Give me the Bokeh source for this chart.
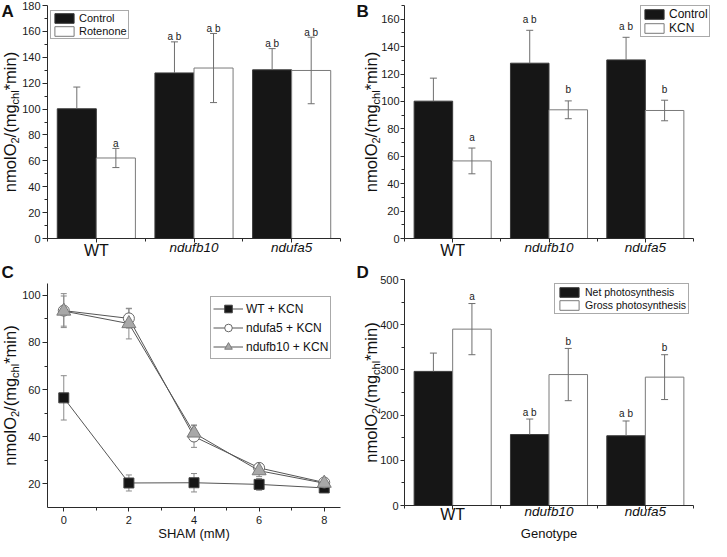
from math import pi
from bokeh.plotting import figure
from bokeh.models import (Range1d, FixedTicker, Label, Legend, LegendItem, Whisker,
                          TeeHead, ColumnDataSource)
from bokeh.layouts import column, row
from bokeh.embed import file_html
from bokeh.resources import INLINE
from bokeh.core.properties import value

FONT = "Liberation Sans"

# ---------------- data ----------------
genotypes = ["WT", "ndufb10", "ndufa5"]

# Panel A: Control vs Rotenone
a_control = [100.2, 127.9, 130.3]
a_control_err = [16.8, 24.0, 16.4]
a_rotenone = [62.2, 131.7, 129.8]
a_rotenone_err = [7.4, 26.7, 25.7]
a_letters_control = ["", "a b", "a b"]
a_letters_rotenone = ["a", "a b", "a b"]

# Panel B: Control vs KCN
b_control = [100.2, 127.9, 130.3]
b_control_err = [16.8, 24.0, 16.5]
b_kcn = [56.6, 93.9, 93.4]
b_kcn_err = [9.4, 6.5, 7.5]
b_letters_control = ["", "a b", "a b"]
b_letters_kcn = ["a", "b", "b"]

# Panel C: SHAM titration
sham_mM = [0, 2, 4, 6, 8]
wt_kcn = [56.5, 20.4, 20.5, 19.8, 18.3]
wt_kcn_err = [9.4, 3.4, 3.9, 2.5, 1.8]
ndufa5_kcn = [93.5, 90.2, 40.1, 26.8, 20.6]
ndufa5_kcn_err = [7.2, 4.1, 4.6, 1.8, 1.4]
ndufb10_kcn = [93.3, 88.0, 41.6, 25.6, 20.3]
ndufb10_kcn_err = [6.4, 6.5, 3.4, 2.5, 1.6]

# Panel D: photosynthesis
d_net = [296.7, 157.0, 154.3]
d_net_err = [40.5, 34.3, 32.7]
d_gross = [390.2, 289.7, 284.0]
d_gross_err = [56.6, 57.8, 49.6]
d_letters_net = ["", "a b", "a b"]
d_letters_gross = ["a", "b", "b"]

# ---------------- styling helpers ----------------
AX = "#2a2a2a"
BLACK = "#161616"
EDGE = "#7a7a7a"
ERR = "#6e6e6e"

W = {'n': 556, 'm': 833, 'o': 556, 'l': 222, 'O': 778, '2': 556, '/': 278, '(': 333,
     'g': 556, 'c': 500, 'h': 556, '*': 389, 'i': 222, ')': 333}


def tw(s, size):
    return sum(W[c] for c in s) * size / 1000.0


class Panel:
    """Figure whose frame fills the canvas; axes are pinned at the data origin."""

    def __init__(self, w, h, fl, fr, ft, fb, x0, x1, y0, y1, tick_out, standoff):
        self.sx = (fr - fl) / (x1 - x0)
        self.sy = (fb - ft) / (y1 - y0)
        self.xs = x0 - fl / self.sx
        self.xe = x1 + (w - fr) / self.sx
        self.ys = y0 - (h - fb) / self.sy
        self.ye = y1 + ft / self.sy
        self.h = h
        p = figure(width=w, height=h, x_range=Range1d(self.xs, self.xe),
                   y_range=Range1d(self.ys, self.ye), output_backend="svg",
                   toolbar_location=None, min_border=0, min_border_left=0,
                   min_border_right=0, min_border_top=0, min_border_bottom=0)
        p.outline_line_color = None
        p.grid.visible = False
        p.background_fill_color = "white"
        p.border_fill_color = "white"
        p.xaxis.fixed_location = y0
        p.yaxis.fixed_location = x0
        p.xaxis.bounds = (x0, x1)
        p.yaxis.bounds = (y0, y1)
        for ax in (p.xaxis[0], p.yaxis[0]):
            ax.axis_line_color = AX
            ax.major_tick_line_color = AX
            ax.minor_tick_line_color = AX
            ax.major_tick_in = 0
            ax.minor_tick_in = 0
            ax.minor_tick_out = 3
            ax.major_label_text_font = FONT
            ax.major_label_text_font_size = "11px"
            ax.major_label_text_color = "#1a1a1a"
        p.yaxis.major_tick_out = tick_out
        p.yaxis.major_label_standoff = standoff
        p.xaxis.major_tick_out = 4
        p.xaxis.major_label_standoff = 4
        self.p = p

    def dx(self, cx):
        return self.xs + cx / self.sx

    def dy(self, cy):
        return self.ye - cy / self.sy

    def lab(self, text, cx, cy, size, style="normal", angle=0, align="left", xdata=None):
        # (cx, cy) is the wanted baseline point in canvas pixels; the label is anchored
        # at the middle of its text box, which lies 0.35 em above the baseline.
        if angle == 0:
            cy = cy - 0.35 * size
        else:
            cx = cx - 0.35 * size
        x = xdata if xdata is not None else self.dx(cx)
        self.p.add_layout(Label(x=x, y=self.dy(cy), x_units="data", y_units="data", text=text,
                                text_font=FONT, text_font_size=f"{size}px",
                                text_font_style=style, angle=angle, text_align=align,
                                text_baseline="middle", text_color="#111111"))

    def ylabel(self, base_cx, ft, fb, sub_shift=3.5):
        pieces = [("nmolO", 16.5, 0), ("2", 11, sub_shift), ("/(mg", 16.5, 0),
                  ("chl", 11, sub_shift), ("*min)", 16.5, 0)]
        total = sum(tw(t, s) for t, s, _ in pieces)
        cy = (ft + fb) / 2 + total / 2
        for t, s, sub in pieces:
            self.lab(t, base_cx + sub, cy, s, angle=pi / 2)
            cy -= tw(t, s)


def bar_panel(P, left, left_err, right, right_err, lt_left, lt_right, gap):
    p = P.p
    xs = list(range(len(genotypes)))
    src_l = ColumnDataSource(dict(x=[i - 0.2 for i in xs], top=left,
                                  upper=[v + e for v, e in zip(left, left_err)],
                                  lower=left, txt=lt_left))
    src_r = ColumnDataSource(dict(x=[i + 0.2 for i in xs], top=right,
                                  upper=[v + e for v, e in zip(right, right_err)],
                                  lower=[v - e for v, e in zip(right, right_err)], txt=lt_right))
    r1 = p.vbar(x="x", top="top", bottom=0, width=0.4, source=src_l, fill_color=BLACK,
                line_color="#3a3a3a")
    r2 = p.vbar(x="x", top="top", bottom=0, width=0.4, source=src_r, fill_color="white",
                line_color=EDGE)
    p.add_layout(Whisker(source=src_l, base="x", upper="upper", lower="lower", line_color=ERR,
                         upper_head=TeeHead(size=7, line_color=ERR), lower_head=None,
                         level="annotation"))
    p.add_layout(Whisker(source=src_r, base="x", upper="upper", lower="lower", line_color=ERR,
                         upper_head=TeeHead(size=7, line_color=ERR),
                         lower_head=TeeHead(size=7, line_color=ERR), level="annotation"))
    for src in (src_l, src_r):
        p.text(x="x", y="upper", text="txt", source=src, text_align="center",
               text_baseline="alphabetic", y_offset=-gap, text_font=value(FONT),
               text_font_size="10px", text_color="#1a1a1a")
    p.xaxis.ticker = FixedTicker(ticks=xs, minor_ticks=[i - 0.5 for i in xs] + [xs[-1] + 0.5])
    p.xaxis.major_label_text_color = None
    return r1, r2


def cat_labels(P, wt_cy, mut_cy):
    for i, g in enumerate(genotypes):
        if g == "WT":
            P.lab(g, 0, wt_cy, 16, align="center", xdata=i)
        else:
            P.lab(g, 0, mut_cy, 13.5, align="center", style="italic", xdata=i)


def bar_legend(p, items, loc, size, pad, spacing, label_h, standoff=3):
    leg = Legend(items=[LegendItem(label=l, renderers=[r]) for l, r in items], location=loc,
                 padding=pad, spacing=spacing, margin=0, glyph_width=24, glyph_height=12,
                 label_height=label_h, label_standoff=standoff, label_text_font=FONT,
                 label_text_font_size=f"{size}px", label_text_color="#111111",
                 border_line_color="#555555", border_line_width=1,
                 background_fill_color="white", background_fill_alpha=1.0)
    p.add_layout(leg)


H1, H2 = 262, 279
WL, WR = 356, 355

# ---------------- Panel A ----------------
PA = Panel(WL, H1, 47, 340, 5, 238, -0.5, 2.5, 0, 180, 5, 2)
PA.p.yaxis.ticker = FixedTicker(ticks=list(range(0, 181, 20)), minor_ticks=list(range(10, 180, 20)))
ra1, ra2 = bar_panel(PA, a_control, a_control_err, a_rotenone, a_rotenone_err,
                     a_letters_control, a_letters_rotenone, 5)
cat_labels(PA, 256, 252)
PA.ylabel(15, 5, 238)
bar_legend(PA.p, [("Control", ra1), ("Rotenone", ra2)], (50, H1 - 10 - 29), 11, 1, 1, 12)
PA.lab("A", 1, 17, 17, style="bold")

# ---------------- Panel B ----------------
PB = Panel(WR, H1, 48, 337, 5, 238, -0.5, 2.5, 0, 170, 4, 1)
PB.p.yaxis.ticker = FixedTicker(ticks=list(range(0, 161, 20)), minor_ticks=list(range(10, 171, 20)))
rb1, rb2 = bar_panel(PB, b_control, b_control_err, b_kcn, b_kcn_err,
                     b_letters_control, b_letters_kcn, 11)
cat_labels(PB, 256, 252)
PB.ylabel(20, 5, 238)
bar_legend(PB.p, [("Control", rb1), ("KCN", rb2)], (284, H1 - 7 - 30), 12, 1, 0, 13)
PB.lab("B", 0, 17, 17, style="bold")

# ---------------- Panel C ----------------
PC = Panel(WL, H2, 47, 340, 21, 245, -0.5, 8.5, 10, 105, 5, 2)
pc = PC.p
pc.xaxis.ticker = FixedTicker(ticks=[0, 2, 4, 6, 8], minor_ticks=[1, 3, 5, 7])
pc.yaxis.ticker = FixedTicker(ticks=[20, 40, 60, 80, 100], minor_ticks=[30, 50, 70, 90])
PC.lab("SHAM (mM)", 0, 276, 13, align="center", xdata=4)
PC.lab("C", 1, 16, 17, style="bold")

series = [
    ("WT + KCN", wt_kcn, wt_kcn_err, "square", 10, BLACK, "#444444"),
    ("ndufa5 + KCN", ndufa5_kcn, ndufa5_kcn_err, "circle", 11, "white", "#666666"),
    ("ndufb10 + KCN", ndufb10_kcn, ndufb10_kcn_err, "triangle", 14, "#a8a8a8", "#7a7a7a"),
]
c_items = []
for name, vals, errs, marker, size, fill, edge in series:
    src = ColumnDataSource(dict(x=sham_mM, y=vals,
                                upper=[v + e for v, e in zip(vals, errs)],
                                lower=[v - e for v, e in zip(vals, errs)]))
    pc.add_layout(Whisker(source=src, base="x", upper="upper", lower="lower", line_color="#8a8a8a",
                          upper_head=TeeHead(size=6, line_color="#8a8a8a"),
                          lower_head=TeeHead(size=6, line_color="#8a8a8a"), level="underlay"))
    rl = pc.line(x="x", y="y", source=src, line_color="#555555", line_width=1)
    rs = pc.scatter(x="x", y="y", source=src, marker=marker, size=size, fill_color=fill,
                    line_color=edge, line_width=1)
    c_items.append(LegendItem(label=name, renderers=[rl, rs]))
leg_c = Legend(items=c_items, location=(210, H2 - 36 - 61), padding=2, spacing=0, margin=0,
               glyph_width=30, glyph_height=19, label_height=12, label_standoff=3,
               label_text_font=FONT, label_text_font_size="12px", label_text_color="#111111",
               border_line_color="#555555", border_line_width=1, background_fill_color="white")
pc.add_layout(leg_c)
PC.ylabel(15, 21, 245)

# ---------------- Panel D ----------------
PD = Panel(WR, H2, 48, 337, 17, 243, -0.5, 2.5, 0, 500, 4, 2)
PD.p.yaxis.ticker = FixedTicker(ticks=list(range(0, 501, 100)), minor_ticks=list(range(50, 500, 100)))
rd1, rd2 = bar_panel(PD, d_net, d_net_err, d_gross, d_gross_err,
                     d_letters_net, d_letters_gross, 7)
cat_labels(PD, 258, 254)
PD.lab("Genotype", 0, 276, 13, align="center", xdata=1)
PD.lab("D", 0, 16, 17, style="bold")
PD.ylabel(20, 17, 243)
bar_legend(PD.p, [("Net photosynthesis", rd1), ("Gross photosynthesis", rd2)],
           (198, H2 - 23 - 29), 10.5, 2, 1, 12, 4)

layout = column(row(PA.p, PB.p, spacing=0), row(PC.p, PD.p, spacing=0), spacing=0)
open("out.html", "w").write(file_html(layout, INLINE))
